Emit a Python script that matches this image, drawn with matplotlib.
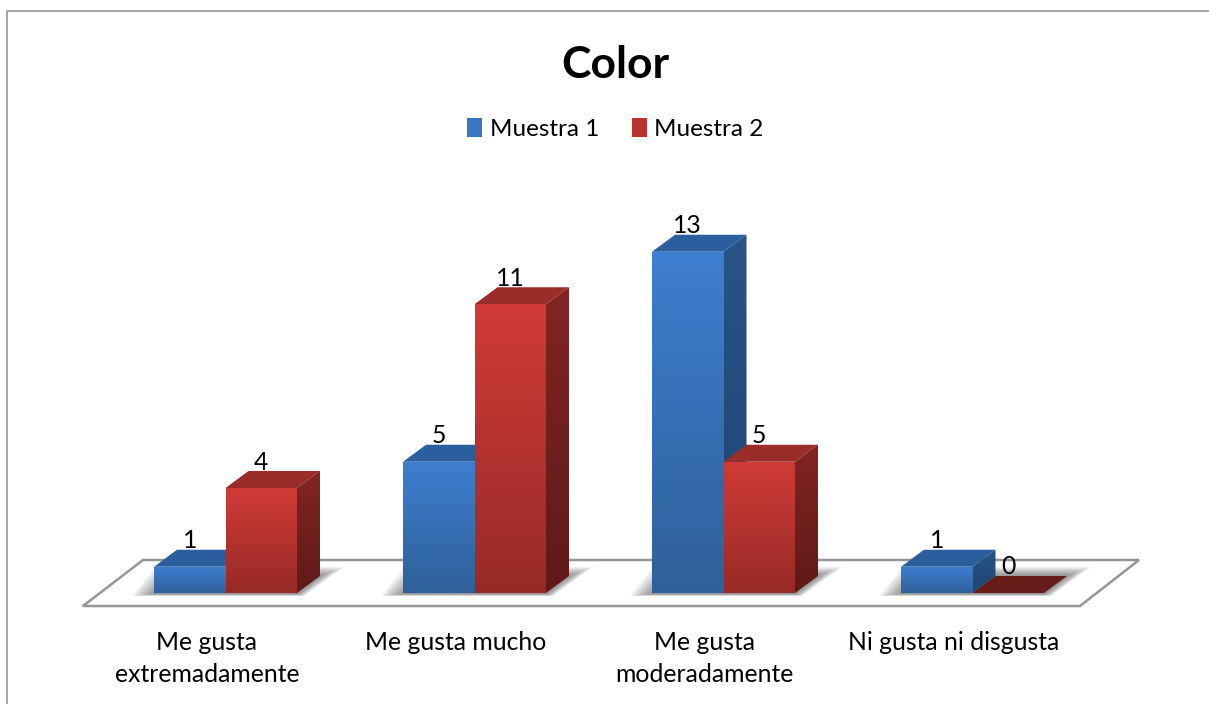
import numpy as np
import matplotlib
matplotlib.use("Agg")
import matplotlib.pyplot as plt
from matplotlib.patches import Polygon, Patch
from matplotlib.colors import LinearSegmentedColormap
from matplotlib.lines import Line2D

plt.rcParams['font.family'] = ['Lato', 'DejaVu Sans']

title = "Color"
categories = ["Me gusta\nextremadamente", "Me gusta mucho", "Me gusta\nmoderadamente", "Ni gusta ni disgusta"]
muestra_1 = [1, 5, 13, 1]
muestra_2 = [4, 11, 5, 0]
series_names = ["Muestra 1", "Muestra 2"]

W, H = 1209, 704
fig = plt.figure(figsize=(W/100, H/100), dpi=100, facecolor='white')

# pixel geometry of the plot frame
PX_UNIT_X, PX_UNIT_Y = 249.0, 26.25
X0_PX, Y0_PX = 225.5, 593.0
TOP_PX, BOT_PX = 0.0, 606.0
ax = fig.add_axes([0, 1 - BOT_PX/H, 1, (BOT_PX - TOP_PX)/H])
ax.set_xlim(-X0_PX/PX_UNIT_X, (W - X0_PX)/PX_UNIT_X)
ax.set_ylim((Y0_PX - BOT_PX)/PX_UNIT_Y, (Y0_PX - TOP_PX)/PX_UNIT_Y)
ax.set_autoscale_on(False)
for s in ax.spines.values():
    s.set_visible(False)
ax.set_yticks([])
ax.set_xticks(np.arange(len(categories)) - 0.075)
ax.set_xticklabels(categories, fontsize=17.8, color='black', linespacing=1.45)
ax.tick_params(axis='x', length=0, pad=18)
ax.patch.set_alpha(0)

bw = 71.5/PX_UNIT_X
dx = 23/PX_UNIT_X
dy = 17/PX_UNIT_Y

styles = [
    dict(front=('#2f6099', '#3e7ed0'), top='#2b5e9c', side=('#1f4470', '#285488'), flat='#1f4470'),
    dict(front=('#982a26', '#d03b37'), top='#9a2c29', side=('#5f1a18', '#822522'), flat='#681c1a'),
]

def px(xp, yp):
    return ((xp - X0_PX)/PX_UNIT_X, (Y0_PX - yp)/PX_UNIT_Y)

floor = Polygon([px(83, 606), px(1080, 606), px(1139, 560), px(143, 560)], closed=True,
                facecolor='white', edgecolor='#969696', linewidth=1.8, zorder=1, clip_on=False)
ax.add_patch(floor)

def grad(poly_pts, colors, extent, z):
    cmap = LinearSegmentedColormap.from_list('g', list(colors))
    im = ax.imshow(np.linspace(0, 1, 64).reshape(-1, 1), extent=extent, origin='lower', aspect='auto',
                   cmap=cmap, zorder=z, interpolation='bilinear')
    clip = Polygon(poly_pts, closed=True, transform=ax.transData)
    im.set_clip_path(clip)

z = 3.0
for i in range(len(categories)):
    # soft shadow around the group
    g0, g1 = i - bw, i + bw
    for t in np.linspace(1, 0, 14):
        left = 22*t/PX_UNIT_X
        right = 24*t/PX_UNIT_X
        top = 9*t/PX_UNIT_Y
        bottom = (1 + 2*t)/PX_UNIT_Y
        ax.add_patch(Polygon([(g0 - left, -bottom), (g1 + right*0.3, -bottom),
                              (g1 + dx + right, dy + top), (g0 + dx - left, dy + top)],
                             closed=True, facecolor='#4a4a4a', alpha=0.06, edgecolor='none', zorder=2))

for i in range(len(categories)):
    for j, vals in enumerate([muestra_1, muestra_2]):
        v = vals[i]
        st = styles[j]
        x0 = i - bw if j == 0 else i
        x1 = x0 + bw
        if v == 0:
            ax.add_patch(Polygon([(x0, 0), (x1, 0), (x1 + dx, dy), (x0 + dx, dy)], closed=True,
                                 facecolor=st['flat'], edgecolor='none', zorder=z))
        else:
            ax.add_patch(Polygon([(x0, v), (x1, v), (x1 + dx, v + dy), (x0 + dx, v + dy)], closed=True,
                                 facecolor=st['top'], edgecolor='none', zorder=z))
            grad([(x1, 0), (x1 + dx, dy), (x1 + dx, v + dy), (x1, v)], st['side'],
                 [x1, x1 + dx, 0, v + dy], z + 0.01)
            ax.bar(x0, v, width=bw, align='edge', bottom=0, color='none', edgecolor='none', zorder=z + 0.02)
            grad([(x0, 0), (x1, 0), (x1, v), (x0, v)], st['front'], [x0, x1, 0, v], z + 0.02)
        z += 0.1
        ax.text(x0 + bw/2, v + dy + 1.5/PX_UNIT_Y, str(v), ha='center', va='baseline',
                fontsize=17.8, color='black', zorder=10)

ax.set_xlim(-X0_PX/PX_UNIT_X, (W - X0_PX)/PX_UNIT_X)
ax.set_ylim((Y0_PX - BOT_PX)/PX_UNIT_Y, (Y0_PX - TOP_PX)/PX_UNIT_Y)

# title
fig.text(615.5/W, 1 - 65/H, title, ha='center', va='center', fontsize=32, fontweight='bold', color='black')

# legend
handles = [Patch(facecolor='#3a76c0', edgecolor='none'), Patch(facecolor='#bb322e', edgecolor='none')]
fig.legend(handles, series_names, loc='center', bbox_to_anchor=(615.5/W, 1 - 129/H), ncol=2, frameon=False,
           fontsize=17.5, handlelength=0.62, handleheight=0.85, handletextpad=0.3, columnspacing=1.35,
           borderpad=0, borderaxespad=0)

# outer frame (left and top only)
fig.add_artist(Line2D([7/W, 7/W, 1], [0, 1 - 10.5/H, 1 - 10.5/H], transform=fig.transFigure,
                      color='#8c8c8c', linewidth=1.1))

fig.savefig('out.png', dpi=100, facecolor='white')
